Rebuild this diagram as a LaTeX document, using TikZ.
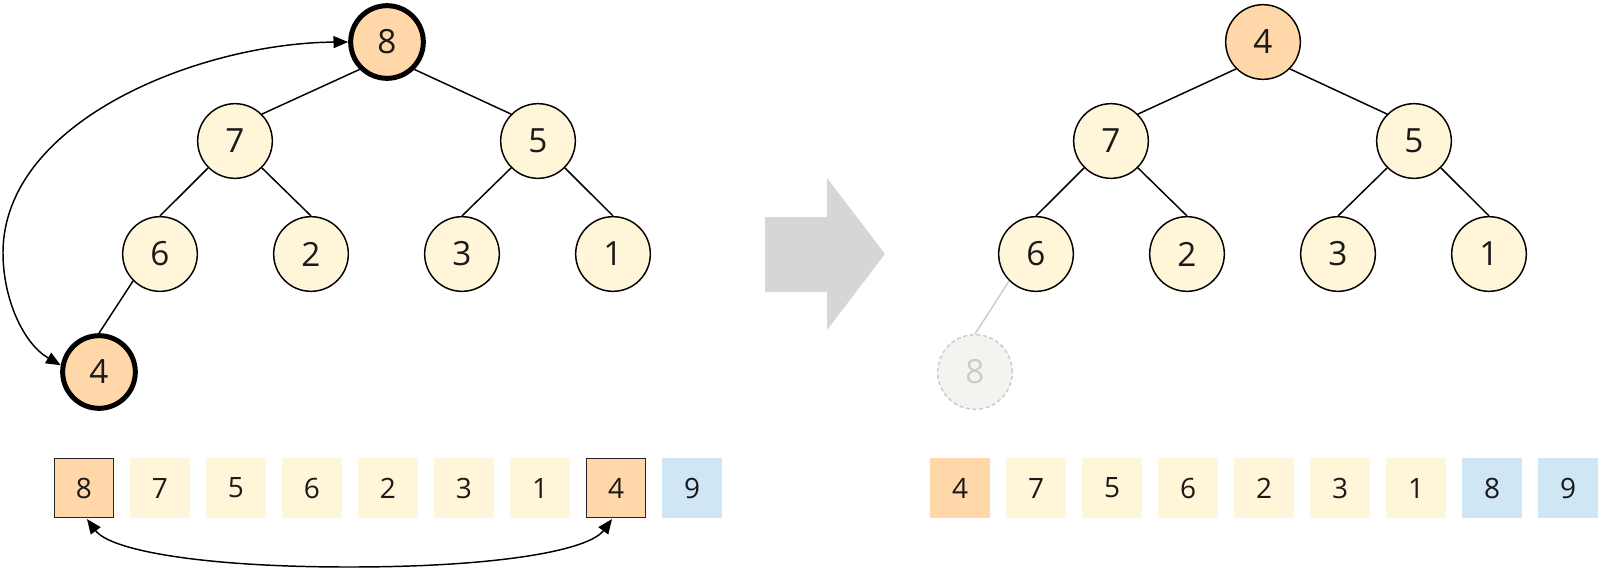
\documentclass[tikz,border=0pt]{standalone}
\usepackage{fontspec}
\setmainfont{Open Sans}
\usetikzlibrary{arrows.meta,calc}
\definecolor{cream}{HTML}{FFF5D8}
\definecolor{peach}{HTML}{FFD7A8}
\definecolor{sky}{HTML}{CFE7F5}
\definecolor{arrowgray}{HTML}{D6D6D6}
\definecolor{fadefill}{HTML}{F3F3EF}
\definecolor{fadeline}{HTML}{CCCCCC}
\definecolor{ink}{HTML}{1A1A1A}
\begin{document}
\begin{tikzpicture}[x=0.75pt,y=-0.75pt,
  hnode/.style={circle,draw=black,line width=1.1pt,fill=cream,minimum size=56pt,inner sep=0pt,text=ink,font=\fontsize{25pt}{25pt}\selectfont},
  hot/.style={hnode,fill=peach,line width=3.75pt,minimum size=54.5pt},
  topnode/.style={hnode,fill=peach},
  ghost/.style={hnode,fill=fadefill,draw=fadeline,dash pattern=on 3pt off 2pt,text=fadeline},
  cell/.style={rectangle,minimum width=45pt,minimum height=45pt,inner sep=0pt,text=ink,font=\fontsize{21pt}{21pt}\selectfont,fill=cream},
  hotcell/.style={cell,fill=peach,draw=black!85,line width=1.1pt,minimum width=44pt,minimum height=44pt},
  peachcell/.style={cell,fill=peach},
  donecell/.style={cell,fill=sky},
  edge/.style={line width=1.1pt,draw=black},
  fadeedge/.style={line width=1.1pt,draw=fadeline},
  swap/.style={line width=1.1pt,{Triangle[length=11pt,width=9pt]}-{Triangle[length=11pt,width=9pt]}},
]
\useasboundingbox (0,0) rectangle (1600,572);

% ---------- left tree ----------
\node[hot]   (a8) at (387,42)  {8};
\node[hnode] (a7) at (235,141) {7};
\node[hnode] (a5) at (538,141) {5};
\node[hnode] (a6) at (160,254) {6};
\node[hnode] (a2) at (311,254) {2};
\node[hnode] (a3) at (462,254) {3};
\node[hnode] (a1) at (613,254) {1};
\node[hot]   (a4) at (99,372)  {4};
\draw[edge] (a8.225) -- (a7.45);
\draw[edge] (a8.315) -- (a5.135);
\draw[edge] (a7.225) -- (a6.90);
\draw[edge] (a7.315) -- (a2.90);
\draw[edge] (a5.225) -- (a3.90);
\draw[edge] (a5.315) -- (a1.90);
\draw[edge] (a6.225) -- (a4.90);

% ---------- left array ----------
\node[hotcell]  (c0) at (84,488)  {8};
\node[cell]     (c1) at (160,488) {7};
\node[cell]     (c2) at (236,488) {5};
\node[cell]     (c3) at (312,488) {6};
\node[cell]     (c4) at (388,488) {2};
\node[cell]     (c5) at (464,488) {3};
\node[cell]     (c6) at (540,488) {1};
\node[hotcell]  (c7) at (616,488) {4};
\node[donecell] (c8) at (692,488) {9};

% swap arrows
\coordinate (loopL) at (3,253);
\draw[swap] (a4.170) .. controls +(-38,-22) and +(0,45) .. (loopL)
            .. controls +(0,-133) and +(-147,1) .. (a8.180);
\coordinate (botmid) at (349,567);
\draw[swap] ($(c0.south)+(3,1)$) .. controls +(23,31) and +(-149,0) .. (botmid)
            .. controls +(151,0) and +(-23,31) .. ($(c7.south)+(-4,1)$);

% ---------- big gray arrow ----------
\fill[arrowgray] (765,217) -- (827,217) -- (827,178) -- (885,254) -- (827,330) -- (827,292) -- (765,292) -- cycle;

% ---------- right tree ----------
\begin{scope}[shift={(876,0)}]
\node[topnode] (b4) at (387,42)  {4};
\node[hnode]   (b7) at (235,141) {7};
\node[hnode]   (b5) at (538,141) {5};
\node[hnode]   (b6) at (160,254) {6};
\node[hnode]   (b2) at (311,254) {2};
\node[hnode]   (b3) at (462,254) {3};
\node[hnode]   (b1) at (613,254) {1};
\node[ghost]   (b8) at (99,372)  {8};
\draw[edge] (b4.225) -- (b7.45);
\draw[edge] (b4.315) -- (b5.135);
\draw[edge] (b7.225) -- (b6.90);
\draw[edge] (b7.315) -- (b2.90);
\draw[edge] (b5.225) -- (b3.90);
\draw[edge] (b5.315) -- (b1.90);
\draw[fadeedge] (b6.225) -- (b8.90);

\node[peachcell] (d0) at (84,488)  {4};
\node[cell]      (d1) at (160,488) {7};
\node[cell]      (d2) at (236,488) {5};
\node[cell]      (d3) at (312,488) {6};
\node[cell]      (d4) at (388,488) {2};
\node[cell]      (d5) at (464,488) {3};
\node[cell]      (d6) at (540,488) {1};
\node[donecell]  (d7) at (616,488) {8};
\node[donecell]  (d8) at (692,488) {9};
\end{scope}
\end{tikzpicture}
\end{document}
